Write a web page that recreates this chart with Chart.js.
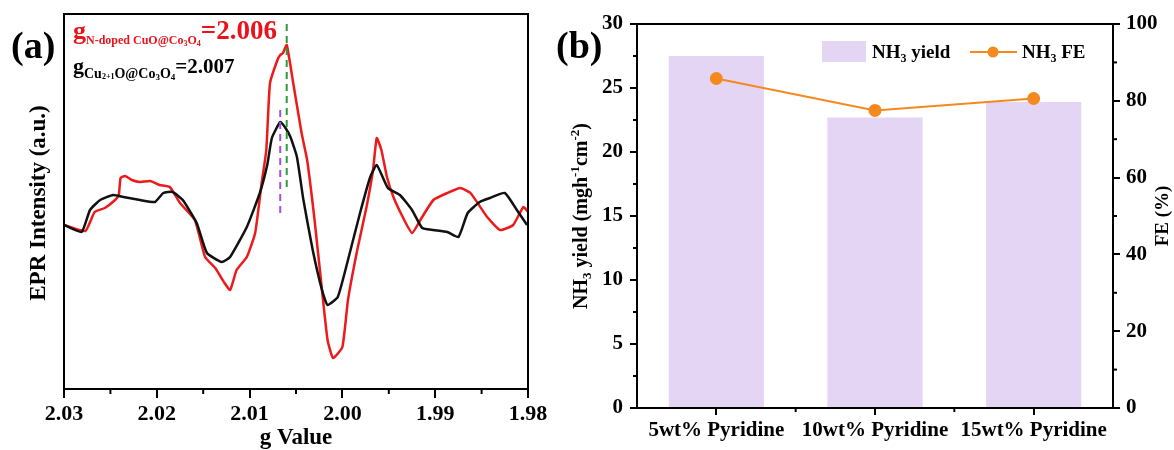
<!DOCTYPE html>
<html>
<head>
<meta charset="utf-8">
<script src="https://cdn.jsdelivr.net/npm/chart.js@4.4.1/dist/chart.umd.min.js"></script>
<style>
  body { margin: 0; background: #fff; }
  #wrap { position: relative; width: 1174px; height: 450px; }
  #boxA { position: absolute; left: 0; top: 0; width: 560px; height: 450px; }
  #boxB { position: absolute; left: 545px; top: 0; width: 629px; height: 450px; }
</style>
</head>
<body>
<div id="wrap">
  <div id="boxA"><canvas id="epr" width="560" height="450"></canvas></div>
  <div id="boxB"><canvas id="nh3" width="629" height="450"></canvas></div>
</div>
<script>
const SERIF = '"Liberation Serif", "Times New Roman", serif';

// (a) EPR spectra: g value and intensity (a.u.)
const gRed = [2.0300, 2.0277, 2.0267, 2.0256, 2.0245, 2.0241, 2.0239, 2.0234, 2.0227, 2.0218, 2.0207, 2.0197, 2.0186, 2.0175, 2.0159, 2.0148, 2.0137, 2.0127, 2.0121, 2.0114, 2.0103, 2.0094, 2.0087, 2.0082, 2.0078, 2.0070, 2.0067, 2.0064, 2.0060, 2.0053, 2.0044, 2.0038, 2.0030, 2.0022, 2.0016, 2.0010, 2.0000, 1.9994, 1.9984, 1.9974, 1.9967, 1.9963, 1.9958, 1.9952, 1.9945, 1.9935, 1.9925, 1.9916, 1.9902, 1.9887, 1.9873, 1.9862, 1.9844, 1.9830, 1.9816, 1.9805, 1.9800];
const eprRed = [164, 158, 177, 181, 189, 194, 211, 213, 209, 207, 208, 204, 202, 186, 169, 132, 121, 106, 99, 119, 132, 156, 206, 239, 306, 329, 334, 336, 344, 306, 256, 229, 169, 99, 49, 31, 42, 89, 139, 182, 219, 251, 239, 212, 192, 172, 156, 169, 189, 196, 201, 196, 172, 159, 164, 182, 177];
const gBlack = [2.0300, 2.0281, 2.0272, 2.0261, 2.0247, 2.0236, 2.0218, 2.0202, 2.0193, 2.0183, 2.0172, 2.0157, 2.0146, 2.0130, 2.0121, 2.0103, 2.0089, 2.0081, 2.0076, 2.0067, 2.0062, 2.0056, 2.0049, 2.0042, 2.0032, 2.0022, 2.0016, 2.0005, 1.9994, 1.9981, 1.9970, 1.9963, 1.9951, 1.9938, 1.9925, 1.9914, 1.9902, 1.9887, 1.9875, 1.9865, 1.9852, 1.9841, 1.9825, 1.9812, 1.9801];
const eprBlack = [164, 157, 179, 189, 194, 192, 189, 187, 196, 197, 189, 166, 136, 127, 132, 162, 196, 224, 251, 267, 262, 252, 232, 189, 139, 99, 84, 92, 129, 176, 212, 224, 201, 194, 179, 161, 159, 157, 152, 176, 187, 191, 196, 179, 164];
// dashed markers at the peak g values
const gMarkRed = 2.0060;
const markRedSpan = [202, 366];
const gMarkBlack = 2.0067;
const markBlackSpan = [176, 279];
const gMinor = [2.025, 2.015, 2.005, 1.995, 1.985];

// (b) NH3 yield and FE
const samples = ["5wt% Pyridine", "10wt% Pyridine", "15wt% Pyridine"];
const nh3Yield = [27.5, 22.7, 23.9];
const nh3FE = [85.8, 77.5, 80.6];
const yieldMinor = [2.5, 7.5, 12.5, 17.5, 22.5, 27.5];
const feMinor = [10, 30, 50, 70, 90];

function pts(xs, ys) {
  return xs.map((x, i) => ({ x: x, y: ys[i] }));
}

// draws a run of text pieces: [text, size, dy]
function richText(ctx, x, y, parts, color, rot, center) {
  ctx.save();
  ctx.translate(x, y);
  if (rot) ctx.rotate(rot);
  ctx.fillStyle = color;
  ctx.textBaseline = "alphabetic";
  ctx.textAlign = "left";
  let w = 0;
  parts.forEach(p => {
    ctx.font = "bold " + p[1] + "px " + SERIF;
    w += ctx.measureText(p[0]).width;
  });
  let cx = center ? -w / 2 : 0;
  parts.forEach(p => {
    ctx.font = "bold " + p[1] + "px " + SERIF;
    ctx.fillText(p[0], cx, p[2] || 0);
    cx += ctx.measureText(p[0]).width;
  });
  ctx.restore();
}

function tick(ctx, x1, y1, x2, y2) {
  ctx.beginPath();
  ctx.moveTo(x1, y1);
  ctx.lineTo(x2, y2);
  ctx.stroke();
}

const eprDecor = {
  id: "eprDecor",
  afterDraw(chart) {
    const { ctx, chartArea: a, scales } = chart;
    ctx.save();
    ctx.strokeStyle = "#000";
    ctx.lineWidth = 2;
    ctx.strokeRect(a.left, a.top, a.right - a.left, a.bottom - a.top);
    gMinor.forEach(v => {
      const px = scales.x.getPixelForValue(v);
      tick(ctx, px, a.bottom, px, a.bottom + 5);
    });
    ctx.restore();

    richText(ctx, 11, 58, [["(a)", 38]], "#000");
    richText(ctx, 73, 39, [["g", 26], ["N-doped CuO@Co", 12, 5], ["3", 8, 7], ["O", 12, 5], ["4", 8, 7], ["=2.006", 27]], "#e8131b");
    richText(ctx, 73, 73, [["g", 22], ["Cu", 14, 5], ["2+1", 8, 6], ["O@Co", 14, 5], ["3", 9, 7], ["O", 14, 5], ["4", 9, 7], ["=2.007", 21]], "#000");
    richText(ctx, (a.left + a.right) / 2, 444, [["g Value", 23]], "#000", 0, true);
    richText(ctx, 45, 203, [["EPR Intensity (a.u.)", 23]], "#000", -Math.PI / 2, true);
  }
};

new Chart(document.getElementById("epr"), {
  type: "line",
  data: {
    datasets: [
      { data: pts([gMarkRed, gMarkRed], markRedSpan), borderColor: "#2f9a3a", borderWidth: 2, borderDash: [7, 5], pointRadius: 0 },
      { data: pts([gMarkBlack, gMarkBlack], markBlackSpan), borderColor: "#a650e2", borderWidth: 2, borderDash: [7, 5], pointRadius: 0 },
      { data: pts(gBlack, eprBlack), borderColor: "#111", borderWidth: 2.5, pointRadius: 0, tension: 0.15 },
      { data: pts(gRed, eprRed), borderColor: "#ec1a1a", borderWidth: 2.5, pointRadius: 0, tension: 0.15 }
    ]
  },
  options: {
    responsive: false,
    animation: false,
    events: [],
    layout: { padding: { top: 14, right: 32, left: 0, bottom: 0 } },
    plugins: { legend: { display: false }, tooltip: { enabled: false } },
    scales: {
      x: {
        type: "linear",
        reverse: true,
        min: 1.98,
        max: 2.03,
        afterFit: s => { s.height = 61; },
        ticks: {
          stepSize: 0.01,
          padding: 3,
          color: "#000",
          font: { family: SERIF, size: 22, weight: "bold" },
          callback: v => v.toFixed(2)
        },
        grid: { drawOnChartArea: false, tickLength: 9, color: "#000", lineWidth: 2 },
        border: { color: "#000", width: 2 }
      },
      y: {
        min: 0,
        max: 375,
        afterFit: s => { s.width = 64; },
        ticks: { display: false },
        grid: { display: false },
        border: { color: "#000", width: 2 }
      }
    }
  },
  plugins: [eprDecor]
});

const nh3Decor = {
  id: "nh3Decor",
  afterDraw(chart) {
    const { ctx, chartArea: a, scales } = chart;
    ctx.save();
    ctx.strokeStyle = "#000";
    ctx.lineWidth = 2;
    ctx.strokeRect(a.left, a.top, a.right - a.left, a.bottom - a.top);
    yieldMinor.forEach(v => {
      const py = scales.y.getPixelForValue(v);
      tick(ctx, a.left, py, a.left - 4, py);
    });
    feMinor.forEach(v => {
      const py = scales.y1.getPixelForValue(v);
      tick(ctx, a.right, py, a.right + 4, py);
    });
    for (let i = 0; i < samples.length - 1; i++) {
      const px = (scales.x.getPixelForValue(i) + scales.x.getPixelForValue(i + 1)) / 2;
      tick(ctx, px, a.bottom, px, a.bottom + 4);
    }
    // legend
    const lx = a.left + 185, ly = a.top + 17;
    ctx.fillStyle = "#e4d5f5";
    ctx.fillRect(lx, ly, 44, 21);
    ctx.strokeStyle = "#f5891f";
    tick(ctx, lx + 148, ly + 11, lx + 195, ly + 11);
    ctx.fillStyle = "#f5891f";
    ctx.beginPath();
    ctx.arc(lx + 171, ly + 11, 5.5, 0, Math.PI * 2);
    ctx.fill();
    ctx.restore();

    richText(ctx, lx + 50, ly + 17, [["NH", 19], ["3", 12, 4], [" yield", 19]], "#000");
    richText(ctx, lx + 200, ly + 17, [["NH", 19], ["3", 12, 4], [" FE", 19]], "#000");
    richText(ctx, 11, 58, [["(b)", 38]], "#000");
    richText(ctx, 42, (a.top + a.bottom) / 2, [["NH", 20], ["3", 13, 4], [" yield (mgh", 20], ["-1", 13, -8], ["cm", 20], ["-2", 13, -8], [")", 20]], "#000", -Math.PI / 2, true);
    richText(ctx, 623, (a.top + a.bottom) / 2, [["FE (%)", 19]], "#000", -Math.PI / 2, true);
  }
};

const tickFont = { family: SERIF, size: 21, weight: "bold" };

new Chart(document.getElementById("nh3"), {
  type: "bar",
  data: {
    labels: samples,
    datasets: [
      { type: "line", label: "NH3 FE", data: nh3FE, yAxisID: "y1", order: 0, borderColor: "#f5891f", backgroundColor: "#f5891f", borderWidth: 2, pointRadius: 5.5, tension: 0 },
      { type: "bar", label: "NH3 yield", data: nh3Yield, yAxisID: "y", order: 1, backgroundColor: "#e4d5f5", barPercentage: 0.6, categoryPercentage: 1 }
    ]
  },
  options: {
    responsive: false,
    animation: false,
    events: [],
    layout: { padding: { top: 24, right: 0, left: 0, bottom: 0 } },
    plugins: { legend: { display: false }, tooltip: { enabled: false } },
    scales: {
      x: {
        afterFit: s => { s.height = 42; },
        ticks: { padding: 3, color: "#000", font: { family: SERIF, size: 21, weight: "bold" } },
        grid: { offset: false, drawOnChartArea: false, tickLength: 7, color: "#000", lineWidth: 2 },
        border: { color: "#000", width: 2 }
      },
      y: {
        position: "left",
        min: 0,
        max: 30,
        afterFit: s => { s.width = 92; },
        ticks: { stepSize: 5, padding: 7, color: "#000", font: tickFont },
        grid: { drawOnChartArea: false, tickLength: 7, color: "#000", lineWidth: 2 },
        border: { color: "#000", width: 2 }
      },
      y1: {
        position: "right",
        min: 0,
        max: 100,
        afterFit: s => { s.width = 61; },
        ticks: { stepSize: 20, padding: 6, color: "#000", font: tickFont },
        grid: { drawOnChartArea: false, tickLength: 7, color: "#000", lineWidth: 2 },
        border: { color: "#000", width: 2 }
      }
    }
  },
  plugins: [nh3Decor]
});
</script>
</body>
</html>
